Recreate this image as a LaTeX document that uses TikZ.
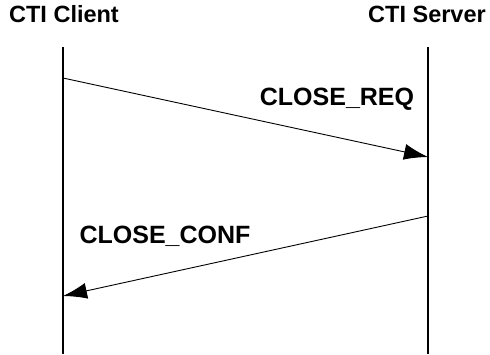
\documentclass[tikz,border=0pt]{standalone}
\usepackage{fontspec}
\setmainfont{Liberation Sans}
\usetikzlibrary{arrows.meta}

\begin{document}
\begin{tikzpicture}[x=1pt,y=-1pt,
    party/.style={font=\fontsize{23.5}{26}\selectfont\bfseries,anchor=base,inner sep=0pt},
    msglabel/.style={font=\fontsize{25}{28}\selectfont\bfseries,anchor=base,inner sep=0pt},
    lifeline/.style={line width=1.3pt},
    msg/.style={line width=0.9pt,-{Latex[length=24pt,width=16pt]}}]
	\useasboundingbox (0,0) rectangle (490,354);
	\node[party] (client) at (64,22) {CTI Client};
	\node[party] (server) at (427,22) {CTI Server};
	\coordinate (ctop) at (63,47);
	\coordinate (cbot) at (63,354);
	\coordinate (stop) at (428,47);
	\coordinate (sbot) at (428,354);
	\coordinate (c1) at (63,78);
	\coordinate (s1) at (428,157);
	\coordinate (s2) at (428,216);
	\coordinate (c2) at (63,296);
	\draw[lifeline] (ctop) -- (cbot);
	\draw[lifeline] (stop) -- (sbot);
	\draw[msg] (c1) to (s1);
	\draw[msg] (s2) to (c2);
	\node[msglabel] (req) at (337,105) {CLOSE\_REQ};
	\node[msglabel] (conf) at (165,243) {CLOSE\_CONF};
\end{tikzpicture}
\end{document}
